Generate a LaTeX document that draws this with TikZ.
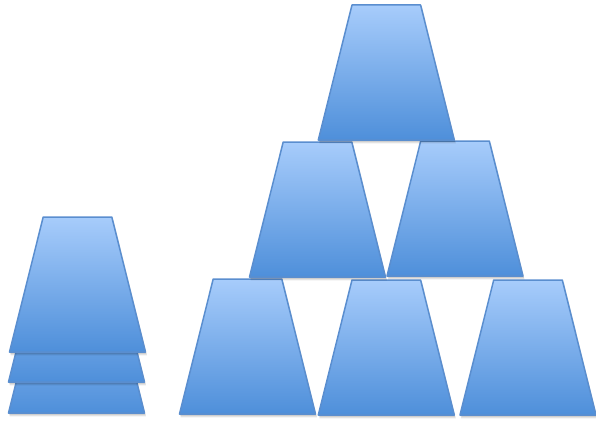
\documentclass[tikz,border=0pt]{standalone}
\usetikzlibrary{calc}
\definecolor{cuptop}{HTML}{A7CCFB}
\definecolor{cupbot}{HTML}{4E8FDA}
\definecolor{cupline}{HTML}{5A8ECF}
\tikzset{
  cupbody/.style={top color=cuptop, bottom color=cupbot, draw=cupline, line width=1.5pt, line join=round},
  cupshadow/.style={fill=black, fill opacity=0.10, draw=none},
}
% #1 = centre x, #2 = bottom y (pixels, y downward)
\newcommand{\drawcup}[2]{%
  \fill[cupshadow] (#1-67,#2+3.4) -- (#1-34,#2-132) -- (#1+36,#2-132) -- (#1+69.5,#2+3.4) -- cycle;
  \fill[cupshadow] (#1-67.5,#2+2) -- (#1-34,#2-133) -- (#1+35,#2-133) -- (#1+69,#2+2) -- cycle;
  \shade[cupbody] (#1-68,#2) -- (#1-34.3,#2-135) -- (#1+34.3,#2-135) -- (#1+68,#2) -- cycle;
}
\begin{document}
\begin{tikzpicture}[x=1pt,y=-1pt]
\useasboundingbox (0,0) rectangle (596,420);
% left stack
\drawcup{76.5}{413}
\drawcup{76.5}{382}
\drawcup{77.5}{352}
% pyramid bottom row
\drawcup{247.5}{414}
\drawcup{386.3}{415}
\drawcup{528}{415}
% middle row
\drawcup{317.5}{277}
\drawcup{455}{276}
% top
\drawcup{386.3}{140}
\end{tikzpicture}
\end{document}
